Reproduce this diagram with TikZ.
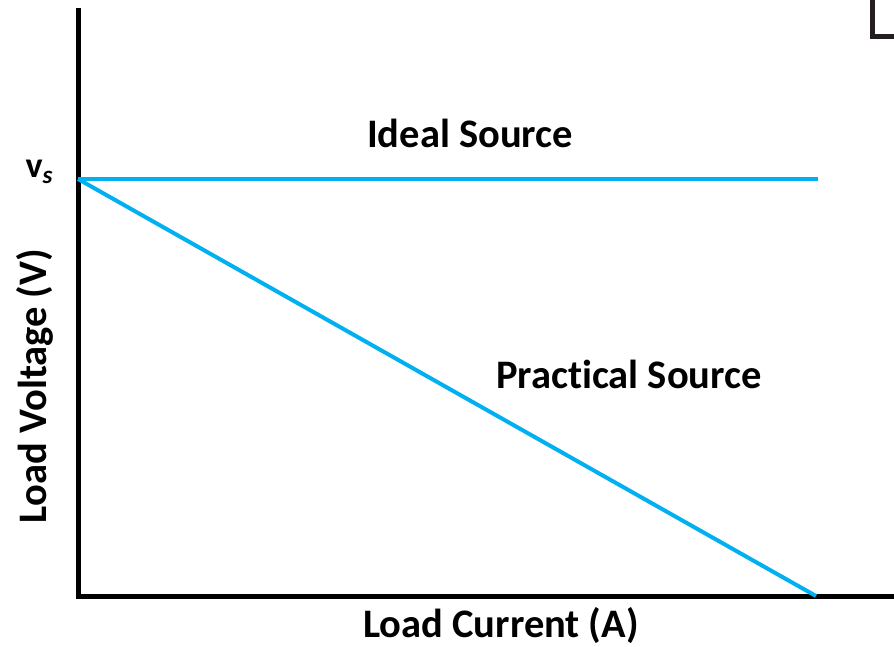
\documentclass[tikz,border=0pt]{standalone}
\usepackage{fontspec}
\setmainfont{Carlito}[Ligatures={NoCommon}]
\definecolor{lineblue}{HTML}{00B0F0}
\definecolor{axisblack}{HTML}{000000}
\definecolor{boxgray}{HTML}{231F20}
\begin{document}
\begin{tikzpicture}[x=1pt,y=-1pt,
  axis/.style={line width=5pt,draw=axisblack,line cap=rect},
  curve/.style={line width=4pt,draw=lineblue},
  lbl/.style={font=\fontsize{40.5}{44}\selectfont\bfseries,inner sep=0pt,anchor=base}]
\useasboundingbox (0,0) rectangle (894,646);
% axes
\coordinate (top) at (78,10);
\coordinate (origin) at (78,596);
\coordinate (xend) at (896,596);
\draw[axis,line join=miter] (top) -- (origin) -- (xend);
% partial box top-right
\coordinate (b1) at (872,-2);
\coordinate (b2) at (872,36);
\coordinate (b3) at (896,36);
\draw[line width=5pt,draw=boxgray,line join=miter] (b1) -- (b2) -- (b3);
% curves
\coordinate (vs) at (78,179);
\coordinate (ideal) at (818,179);
\coordinate (pend) at (816,596);
\draw[curve] (vs) -- (ideal);
\draw[curve] (vs) -- (pend);
% labels
\node[lbl] (tideal) at (470,147) {Ideal Source};
\node[lbl] (tprac) at (629,388) {Practical Source};
\node[lbl] (tcur) at (501,637) {Load Current (A)};
\node[lbl,rotate=90] (tvolt) at (46,386) {Load Voltage (V)};
\node[font=\fontsize{36}{40}\selectfont\bfseries,inner sep=0pt,anchor=base] (tvs) at (39,177) {v\textit{\fontsize{25}{28}\selectfont\raisebox{-0.25em}{s}}};
\end{tikzpicture}
\end{document}
